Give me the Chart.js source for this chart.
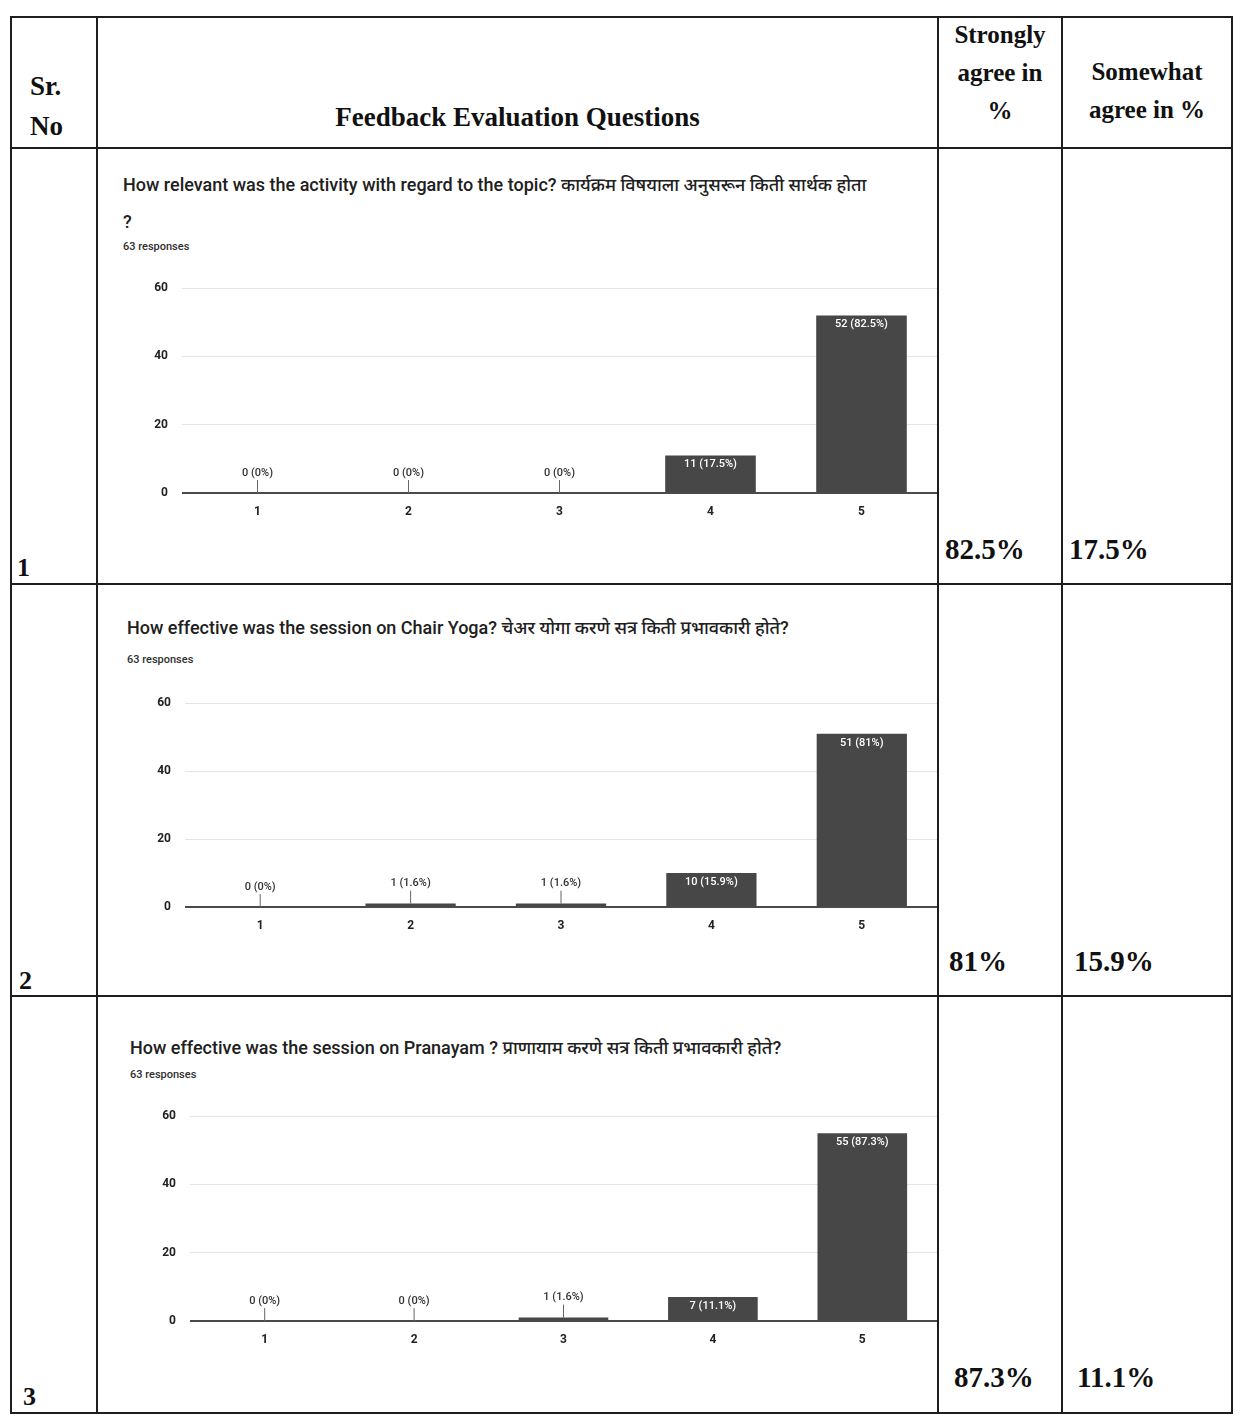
<!DOCTYPE html>
<html>
<head>
<meta charset="utf-8">
<script src="https://cdn.jsdelivr.net/npm/chart.js@4.4.1/dist/chart.umd.min.js"></script>
<style>
  body { margin: 0; background: #fff; }
  #page { position: relative; width: 1243px; height: 1416px; overflow: hidden; background: #fff; }
  .ln { position: absolute; background: #1e1e1e; }
  .hd { position: absolute; font-family: "Liberation Serif", serif; font-weight: bold; color: #111; }
  .val { position: absolute; font-family: "Liberation Serif", serif; font-weight: bold; font-size: 29px; color: #111; }
  .qt { position: absolute; font-family: Roboto, "Noto Sans", sans-serif; font-weight: 500; font-size: 18px; line-height: 21px; color: #202020; white-space: nowrap; }
  .resp { position: absolute; font-family: Roboto, sans-serif; font-weight: 500; font-size: 11px; color: #303030; }
  .box { position: absolute; }
</style>
</head>
<body>
<div id="page">
  <!-- table grid -->
  <div class="ln" style="left:10px;top:16px;width:1223px;height:2px"></div>
  <div class="ln" style="left:10px;top:147px;width:1223px;height:2px"></div>
  <div class="ln" style="left:10px;top:583px;width:1223px;height:2px"></div>
  <div class="ln" style="left:10px;top:995px;width:1223px;height:2px"></div>
  <div class="ln" style="left:10px;top:1412px;width:1223px;height:2px"></div>
  <div class="ln" style="left:10px;top:16px;width:2px;height:1398px"></div>
  <div class="ln" style="left:96px;top:16px;width:2px;height:1398px"></div>
  <div class="ln" style="left:937px;top:16px;width:2px;height:1398px"></div>
  <div class="ln" style="left:1061px;top:16px;width:2px;height:1398px"></div>
  <div class="ln" style="left:1231px;top:16px;width:2px;height:1398px"></div>

  <!-- header -->
  <div class="hd" style="left:30px;top:66px;font-size:27px;line-height:40px">Sr.<br>No</div>
  <div class="hd" style="left:98px;top:102px;width:839px;text-align:center;font-size:27px">Feedback Evaluation Questions</div>
  <div class="hd" style="left:939px;top:16px;width:122px;text-align:center;font-size:25px;line-height:38px">Strongly<br>agree in<br>%</div>
  <div class="hd" style="left:1063px;top:53px;width:168px;text-align:center;font-size:25px;line-height:38px">Somewhat<br>agree in %</div>

  <!-- row 1 -->
  <div class="hd" style="left:17px;top:553px;font-size:26px">1</div>
  <div class="qt" style="left:123px;top:166px;line-height:37px">How relevant was the activity with regard to the topic? कार्यक्रम विषयाला अनुसरून किती सार्थक होता<br>?</div>
  <div class="resp" style="left:123px;top:240px">63 responses</div>
  <div class="box" style="left:140px;top:267px;width:797px;height:253px"><canvas id="c1"></canvas></div>
  <div class="val" id="s1" style="left:945px;top:533px"></div>
  <div class="val" id="w1" style="left:1069px;top:533px"></div>

  <!-- row 2 -->
  <div class="hd" style="left:19px;top:966px;font-size:26px">2</div>
  <div class="qt" style="left:127px;top:617px">How effective was the session on Chair Yoga? चेअर योगा करणे सत्र किती प्रभावकारी होते?</div>
  <div class="resp" style="left:127px;top:653px">63 responses</div>
  <div class="box" style="left:143px;top:682px;width:794px;height:252px"><canvas id="c2"></canvas></div>
  <div class="val" id="s2" style="left:949px;top:945px"></div>
  <div class="val" id="w2" style="left:1074px;top:945px"></div>

  <!-- row 3 -->
  <div class="hd" style="left:23px;top:1382px;font-size:26px">3</div>
  <div class="qt" style="left:130px;top:1037px">How effective was the session on Pranayam ? प्राणायाम करणे सत्र किती प्रभावकारी होते?</div>
  <div class="resp" style="left:130px;top:1068px">63 responses</div>
  <div class="box" style="left:148px;top:1095px;width:789px;height:253px"><canvas id="c3"></canvas></div>
  <div class="val" id="s3" style="left:954px;top:1361px"></div>
  <div class="val" id="w3" style="left:1077px;top:1361px"></div>
</div>

<script>
// rating scale shown on the x axis
const scoreLabels = ['1', '2', '3', '4', '5'];
const yTicks = [0, 20, 40, 60];
const totalResponses = 63;

// counts per rating, one array per question
const relevanceCounts = [0, 0, 0, 11, 52];
const chairYogaCounts = [0, 1, 1, 10, 51];
const pranayamCounts = [0, 0, 1, 7, 55];

// table columns
const strongAgree = ['82.5%', '81%', '87.3%'];
const somewhatAgree = ['17.5%', '15.9%', '11.1%'];

strongAgree.forEach((v, i) => document.getElementById('s' + (i + 1)).innerText = v);
somewhatAgree.forEach((v, i) => document.getElementById('w' + (i + 1)).innerText = v);

function pct(v) {
    let p = (v / totalResponses * 100).toFixed(1);
    if (p.endsWith('.0')) p = p.slice(0, -2);
    return v + ' (' + p + '%)';
}

// labels on the bars, like the Google Forms summary
const barLabels = {
    id: 'barLabels',
    afterDatasetsDraw(chart) {
        const ctx = chart.ctx;
        const meta = chart.getDatasetMeta(0);
        const vals = chart.data.datasets[0].data;
        ctx.save();
        ctx.font = '500 11px Roboto, sans-serif';
        ctx.textAlign = 'center';
        ctx.textBaseline = 'middle';
        meta.data.forEach((bar, i) => {
            const h = bar.base - bar.y;
            const txt = pct(vals[i]);
            if (h > 20) {
                ctx.fillStyle = '#fff';
                ctx.fillText(txt, bar.x, bar.y + 9);
            } else {
                ctx.fillStyle = '#333';
                ctx.fillText(txt, bar.x, bar.y - 20);
                ctx.strokeStyle = '#666';
                ctx.lineWidth = 1;
                ctx.beginPath();
                ctx.moveTo(bar.x, bar.y - 13);
                ctx.lineTo(bar.x, bar.y);
                ctx.stroke();
            }
        });
        ctx.restore();
    }
};

function makeChart(id, counts) {
    return new Chart(document.getElementById(id), {
        type: 'bar',
        data: {
            labels: scoreLabels,
            datasets: [{
                data: counts,
                backgroundColor: '#474747',
                barPercentage: 0.6,
                categoryPercentage: 1.0
            }]
        },
        options: {
            responsive: true,
            maintainAspectRatio: false,
            animation: false,
            layout: { padding: { top: 13, right: 0, left: 0, bottom: 0 } },
            plugins: { legend: { display: false }, tooltip: { enabled: false } },
            scales: {
                x: {
                    grid: { display: false },
                    border: { display: false },
                    ticks: { color: '#222', font: { family: 'Roboto', size: 12, weight: 'bold' }, padding: 4 },
                    afterFit: s => { s.height = 27; }
                },
                y: {
                    min: 0,
                    max: yTicks[yTicks.length - 1],
                    afterBuildTicks: s => { s.ticks = yTicks.map(v => ({ value: v })); },
                    grid: {
                        color: c => c.tick.value === 0 ? '#4a4a4a' : '#e4e4e4',
                        lineWidth: c => c.tick.value === 0 ? 2 : 1,
                        drawTicks: false
                    },
                    border: { display: false },
                    ticks: { color: '#222', font: { family: 'Roboto', size: 12, weight: 'bold' }, padding: 14 },
                    afterFit: s => { s.width = 42; }
                }
            }
        },
        plugins: [barLabels]
    });
}

makeChart('c1', relevanceCounts);
makeChart('c2', chairYogaCounts);
makeChart('c3', pranayamCounts);
</script>
</body>
</html>
